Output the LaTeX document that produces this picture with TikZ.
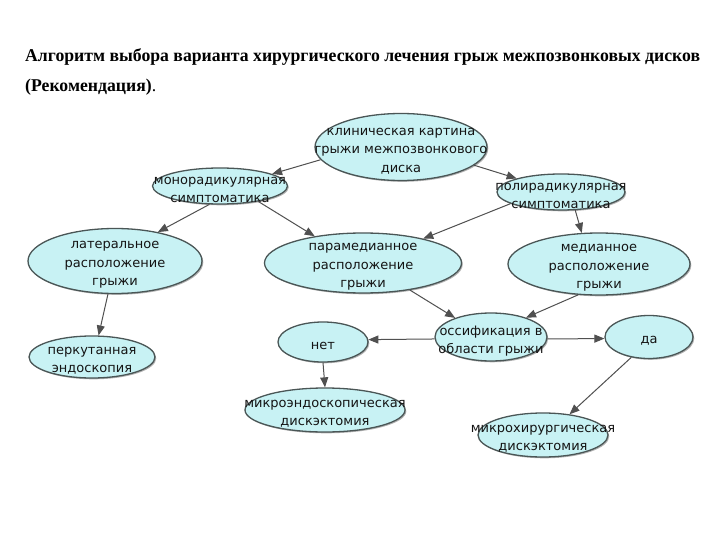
\documentclass[tikz,border=0pt]{standalone}
\usepackage{fontspec}
\setmainfont{DejaVu Sans}
\newfontfamily\ttlfont{Liberation Serif}
\usetikzlibrary{shapes.geometric,arrows.meta,shadows}
\definecolor{ellfill}{HTML}{C8F2F4}
\definecolor{elldraw}{HTML}{4A5656}
\definecolor{arrcol}{HTML}{505050}
\definecolor{txtcol}{HTML}{141414}
\newlength\ttlw
\begin{document}
\settowidth\ttlw{\ttlfont\bfseries\fontsize{18}{20}\selectfont Алгоритм выбора варианта хирургического лечения грыж межпозвонковых дисков}%
\pgfmathsetmacro\ttlsx{675/\ttlw}%
\begin{tikzpicture}[x=1pt,y=-1pt,
  ell/.style={ellipse, draw=elldraw, line width=1.3pt, fill=ellfill, inner sep=0pt,
    drop shadow={shadow xshift=1.3pt, shadow yshift=-1.3pt, opacity=0.3, fill=black}},
  lbl/.style={align=center, font=\fontsize{13}{18.5}\selectfont, text=txtcol, inner sep=0pt, yshift=-4pt},
  arr/.style={draw=arrcol, line width=1pt, -{Triangle[length=10pt,width=8pt]}},
  ttl/.style={anchor=base west, inner sep=0pt, text=black, font=\ttlfont\fontsize{18}{20}\selectfont}]
\fill[white] (0,0) rectangle (720,540);
\useasboundingbox (0,0) rectangle (720,540);
\node[ttl, xscale=\ttlsx] (t1) at (25,62) {\bfseries Алгоритм выбора варианта хирургического лечения грыж межпозвонковых дисков};
\node[ttl, xscale=\ttlsx] (t2) at (25,92) {\bfseries (Рекомендация)\mdseries.};

\node[ell, minimum width=172pt, minimum height=67pt, label={[lbl,name=kt]center:{клиническая картина\\грыжи межпозвонкового\\диска}}] (k) at (401,147) {};
\node[ell, minimum width=135pt, minimum height=36pt, label={[lbl,name=monot]center:{монорадикулярная\\симптоматика}}] (mono) at (220,186) {};
\node[ell, minimum width=128pt, minimum height=36pt, label={[lbl,name=polyt]center:{полирадикулярная\\симптоматика}}] (poly) at (561,192) {};
\node[ell, minimum width=174pt, minimum height=65pt, label={[lbl,name=latt]center:{латеральное\\расположение\\грыжи}}] (lat) at (115,261) {};
\node[ell, minimum width=197pt, minimum height=60pt, label={[lbl,name=parat]center:{парамедианное\\расположение\\грыжи}}] (para) at (363,263) {};
\node[ell, minimum width=182pt, minimum height=62pt, label={[lbl,name=medt]center:{медианное\\расположение\\грыжи}}] (med) at (599,264) {};
\node[ell, minimum width=126pt, minimum height=42pt, label={[lbl,name=perkt]center:{перкутанная\\эндоскопия}}] (perk) at (92,357) {};
\node[ell, minimum width=90pt, minimum height=40pt, label={[lbl,name=nett]center:{нет}}] (net) at (323,342) {};
\node[ell, minimum width=112pt, minimum height=48pt, label={[lbl,name=osst]center:{оссификация в\\области грыжи}}] (oss) at (491,337) {};
\node[ell, minimum width=88pt, minimum height=43pt, label={[lbl,name=dat]center:{да}}] (da) at (649,337) {};
\node[ell, minimum width=160pt, minimum height=44pt, label={[lbl,name=mendot]center:{микроэндоскопическая\\дискэктомия}}] (mendo) at (325,410) {};
\node[ell, minimum width=130pt, minimum height=44pt, label={[lbl,name=mhirt]center:{микрохирургическая\\дискэктомия}}] (mhir) at (543,435) {};

\draw[arr] (k.189) -- (mono.13);
\draw[arr] (k.346) -- (poly.163);
\draw[arr] (mono.240) -- (lat.34);
\draw[arr] (mono.338) -- (para.151);
\draw[arr] (poly.193) -- (para.22);
\draw[arr] (poly.308) -- (med.119);
\draw[arr] (lat.258) -- (perk.73);
\draw[arr] (para.330) -- (oss.152);
\draw[arr] (med.236) -- (oss.29);
\draw[arr] (oss.182) -- (net.3);
\draw[arr] (oss.358) -- (da.182);
\draw[arr] (net.south) -- (mendo.north);
\draw[arr] (da.229) -- (mhir.38);
\end{tikzpicture}
\end{document}
